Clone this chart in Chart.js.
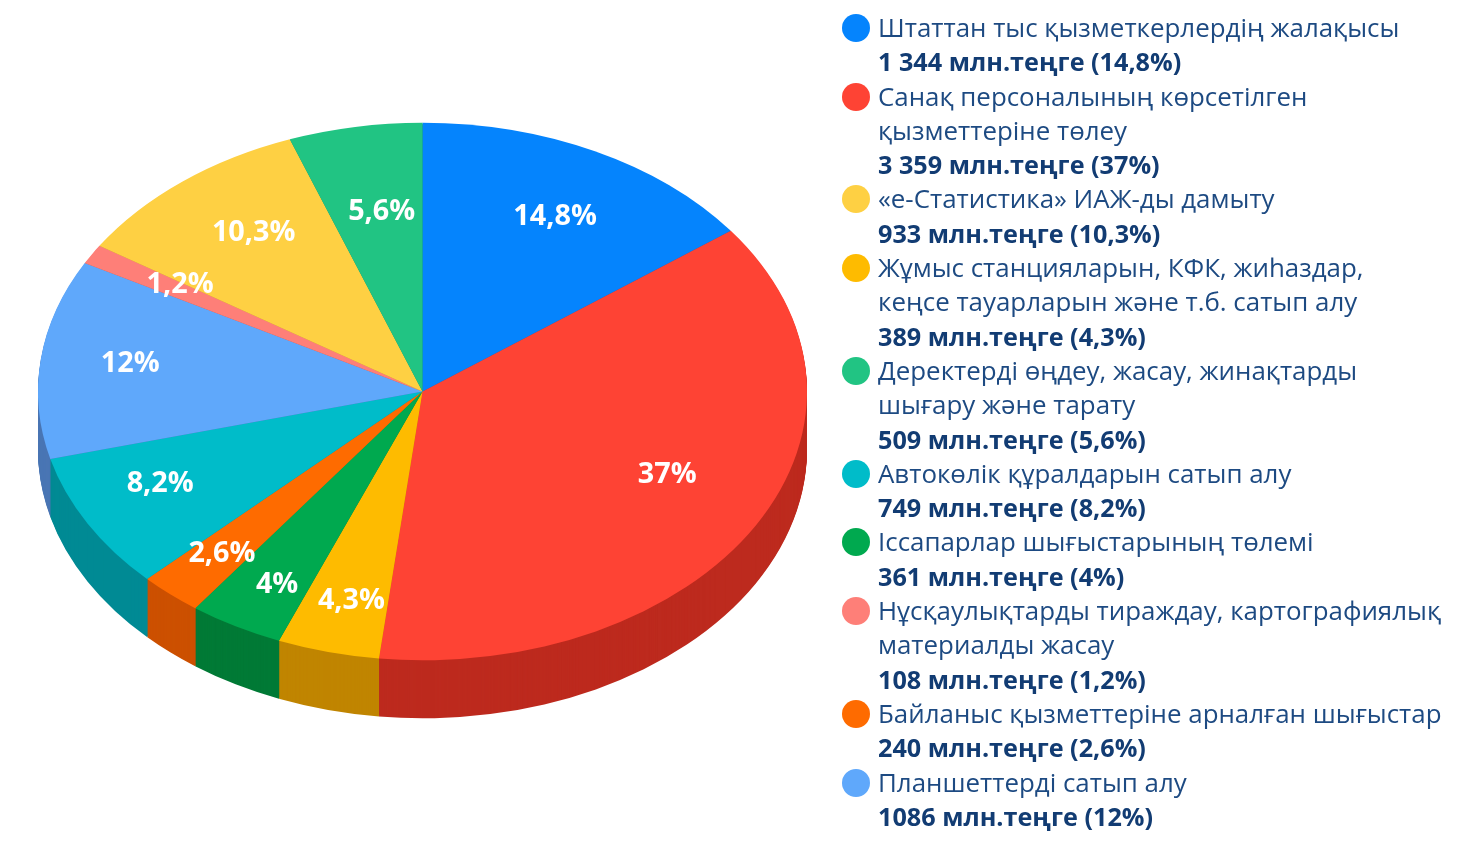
<!DOCTYPE html>
<html lang="kk">
<head>
<meta charset="utf-8">
<title>Шығыстар</title>
<script src="https://cdn.jsdelivr.net/npm/chart.js@4"></script>
<style>
    html, body { margin: 0; padding: 0; background: #fff; }
    #wrap { position: relative; width: 1480px; height: 845px; overflow: hidden; font-family: "Open Sans", sans-serif; }
    #pie { position: absolute; left: 0; top: 0; }
    #legend { position: absolute; left: 842px; top: 10px; width: 638px; color: #1d4a82; font-size: 25.9px; line-height: 34.3px; white-space: nowrap; }
    .item { position: relative; padding-left: 36px; }
    .dot { position: absolute; left: 0; top: 4px; width: 28px; height: 28px; border-radius: 50%; }
    .amount { font-weight: 700; font-size: 25.2px; color: #123c73; }
</style>
</head>
<body>
<div id="wrap">
    <canvas id="pie" width="1480" height="845"></canvas>
    <div id="legend"></div>
</div>
<script>
// Секторлар сағат тілі бойынша, жоғарыдан бастап
const categories = [
    ['Штаттан тыс қызметкерлердің жалақысы'],
    ['Санақ персоналының көрсетілген', 'қызметтеріне төлеу'],
    ['Жұмыс станцияларын, КФК, жиһаздар,', 'кеңсе тауарларын және т.б. сатып алу'],
    ['Іссапарлар шығыстарының төлемі'],
    ['Байланыс қызметтеріне арналған шығыстар'],
    ['Автокөлік құралдарын сатып алу'],
    ['Планшеттерді сатып алу'],
    ['Нұсқаулықтарды тираждау, картографиялық', 'материалды жасау'],
    ['«е-Статистика» ИАЖ-ды дамыту'],
    ['Деректерді өңдеу, жасау, жинақтарды', 'шығару және тарату']
];
const amounts = [1344, 3359, 389, 361, 240, 749, 1086, 108, 933, 509];
const amountLabels = ['1 344', '3 359', '389', '361', '240', '749', '1086', '108', '933', '509'];
const percentLabels = ['14,8%', '37%', '4,3%', '4%', '2,6%', '8,2%', '12%', '1,2%', '10,3%', '5,6%'];
const topColors = ['#0584fd', '#fe4334', '#febb00', '#00a94f', '#fe6b00', '#00bcc9', '#5fa8fb', '#fe7f78', '#fed043', '#21c483'];
const sideColors = ['#0362bd', '#bd2a1e', '#c08500', '#007a36', '#cc5000', '#008a94', '#4a76b4', '#bf5a55', '#bf9a30', '#178f60'];

// Аңыз реті (секторлар индексі)
const legendOrder = [0, 1, 8, 2, 9, 5, 3, 7, 4, 6];

// Пайыз жазбасының орталықтан қашықтығы (радиусқа қатысты) және түзетуі
const labelReach = [0.74, 0.71, 0.795, 0.81, 0.795, 0.765, 0.766, 0.745, 0.74, 0.68];
const labelNudge = [[5, 3], [8, -12], [4, 2], [6, 3], [0, 1], [-6, -9], [0, -3], [4, -5], [9, -3], [5, 0]];

const squash = 0.699;
const depth = 58;

// Аңызды құру
const legendEl = document.getElementById('legend');
legendOrder.forEach(i => {
    const item = document.createElement('div');
    item.className = 'item';
    const dot = document.createElement('span');
    dot.className = 'dot';
    dot.style.background = topColors[i];
    item.appendChild(dot);
    categories[i].forEach(line => {
        const row = document.createElement('div');
        row.textContent = line;
        item.appendChild(row);
    });
    const amount = document.createElement('div');
    amount.className = 'amount';
    amount.textContent = `${amountLabels[i]} млн.теңге (${percentLabels[i]})`;
    item.appendChild(amount);
    legendEl.appendChild(item);
});

// Дөңгелекті эллипске айналдырып, қалыңдығын салу
const tiltPlugin = {
    id: 'tilt',
    beforeDatasetDraw(chart, args) {
        const { ctx } = chart;
        const arcs = chart.getDatasetMeta(args.index).data;
        const { x: cx, y: cy } = arcs[0];
        for (let off = depth; off > 0; off--) {
            ctx.save();
            ctx.translate(cx, cy + off);
            ctx.scale(1, squash);
            ctx.translate(-cx, -cy);
            arcs.forEach((arc, i) => {
                const original = arc.options;
                arc.options = Object.assign({}, original, { backgroundColor: sideColors[i] });
                arc.draw(ctx);
                arc.options = original;
            });
            ctx.restore();
        }
        ctx.save();
        ctx.translate(cx, cy);
        ctx.scale(1, squash);
        ctx.translate(-cx, -cy);
    },
    afterDatasetDraw(chart) {
        chart.ctx.restore();
    },
    afterDatasetsDraw(chart) {
        const { ctx } = chart;
        const arcs = chart.getDatasetMeta(0).data;
        ctx.save();
        ctx.fillStyle = '#fff';
        ctx.font = '700 28.8px "Open Sans"';
        ctx.textAlign = 'center';
        ctx.textBaseline = 'middle';
        arcs.forEach((arc, i) => {
            const mid = (arc.startAngle + arc.endAngle) / 2;
            const reach = arc.outerRadius * labelReach[i];
            const x = arc.x + Math.cos(mid) * reach + labelNudge[i][0];
            const y = arc.y + Math.sin(mid) * reach * squash + labelNudge[i][1];
            ctx.fillText(percentLabels[i], x, y);
        });
        ctx.restore();
    }
};

new Chart(document.getElementById('pie'), {
    type: 'pie',
    data: {
        labels: categories.map(c => c.join(' ')),
        datasets: [{
            data: amounts,
            backgroundColor: topColors,
            borderWidth: 0,
            clip: false
        }]
    },
    options: {
        responsive: false,
        animation: false,
        layout: { padding: { left: 38, right: 673, top: 7, bottom: 69 } },
        plugins: {
            legend: { display: false },
            tooltip: { enabled: false }
        }
    },
    plugins: [tiltPlugin]
});
</script>
</body>
</html>
